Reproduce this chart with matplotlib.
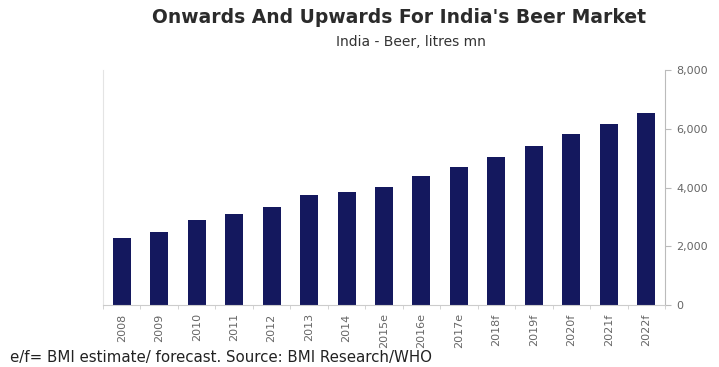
import numpy as np
import matplotlib.pyplot as plt
from matplotlib.ticker import FuncFormatter, FixedLocator

# data
years = ['2008', '2009', '2010', '2011', '2012', '2013', '2014', '2015e',
         '2016e', '2017e', '2018f', '2019f', '2020f', '2021f', '2022f']
beer = [2280, 2480, 2890, 3100, 3330, 3740, 3840, 4010,
        4390, 4690, 5030, 5410, 5820, 6160, 6530]

fig = plt.figure(figsize=(7.19, 3.67), dpi=100)
ax = fig.add_axes([0.1433, 0.1689, 0.7816, 0.6404])

x = np.arange(len(years))
ax.bar(x, beer, width=0.48, color='#14185e', zorder=2)

ax.set_xlim(-0.5, len(years) - 0.5)
ax.set_ylim(0, 8000)

# y axis on the right
ax.yaxis.tick_right()
ax.set_yticks([0, 2000, 4000, 6000, 8000])
ax.yaxis.set_major_formatter(FuncFormatter(lambda v, p: '{:,.0f}'.format(v)))
ax.tick_params(axis='y', colors='#bbbbbb', labelcolor='#666666', labelsize=8,
               length=4, pad=4)

ax.set_xticks(x)
ax.set_xticklabels(years, rotation=90)
ax.tick_params(axis='x', length=0, labelcolor='#666666', labelsize=8, pad=6)
ax.xaxis.set_minor_locator(FixedLocator(np.arange(-0.5, len(years), 1)))
ax.tick_params(axis='x', which='minor', length=3, colors='#cccccc')

ax.spines['top'].set_visible(False)
ax.spines['left'].set_color('#e4e4e4')
ax.spines['right'].set_color('#bbbbbb')
ax.spines['bottom'].set_color('#cccccc')

fig.text(0.555, 0.952, "Onwards And Upwards For India's Beer Market",
         ha='center', va='center', fontsize=13.5, fontweight='bold',
         family='DejaVu Sans', color='#2b2b2b')
fig.text(0.571, 0.886, 'India - Beer, litres mn', ha='center', va='center',
         fontsize=10, family='DejaVu Sans', color='#333333')
fig.text(0.014, 0.025, 'e/f= BMI estimate/ forecast. Source: BMI Research/WHO',
         ha='left', va='center', fontsize=10.8, family='DejaVu Sans', color='#222222')

fig.savefig('out.png', dpi=100)
